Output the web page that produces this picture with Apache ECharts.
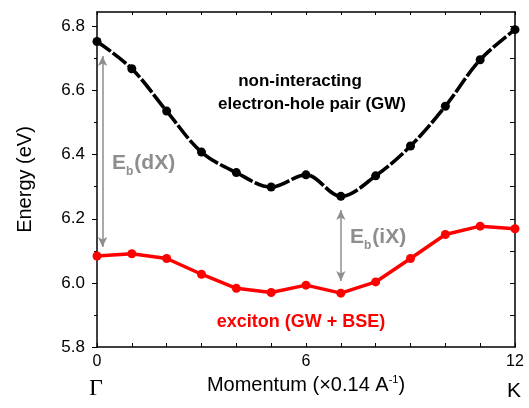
<!DOCTYPE html>
<html>
<head>
<meta charset="utf-8">
<script src="https://cdn.jsdelivr.net/npm/echarts@6/dist/echarts.min.js"></script>
<style>
  html, body { margin: 0; padding: 0; background: #fff; }
  #main { width: 529px; height: 408px; }
</style>
</head>
<body>
<div id="main"></div>
<script>
// data
const momentum = [0, 1, 2, 3, 4, 5, 6, 7, 8, 9, 10, 11, 12];
const gwEnergy = [6.753, 6.668, 6.536, 6.408, 6.344, 6.299, 6.337, 6.270, 6.334, 6.427, 6.551, 6.696, 6.790];
const bseEnergy = [6.084, 6.091, 6.076, 6.027, 5.983, 5.970, 5.993, 5.968, 6.003, 6.076, 6.151, 6.177, 6.169];
const xLabelValues = [0, 6, 12];
const yMajor = [5.8, 6.0, 6.2, 6.4, 6.6, 6.8];
const yMinor = [5.9, 6.1, 6.3, 6.5, 6.7];
const yAll = [5.9, 6.0, 6.1, 6.2, 6.3, 6.4, 6.5, 6.6, 6.7, 6.8];

const font = 'Liberation Sans, Arial, sans-serif';
const gray = '#8e8e8e';

let myChart = echarts.init(document.getElementById('main'));

const frameLine = { show: true, onZero: false, lineStyle: { color: '#000', width: 1.5 } };

// E_b(..) label with a lowered "b"
const ebRich = {
    n: { fontSize: 21, fontWeight: 'bold', fill: gray, fontFamily: font },
    s: { fontSize: 12, fontWeight: 'bold', fill: gray, fontFamily: font, padding: [16, 1, 0, 0] }
};

myChart.setOption({
    animation: false,
    textStyle: { fontFamily: font },
    grid: { left: 97, right: 14, top: 12, bottom: 61 },
    xAxis: [
        {
            type: 'value', min: 0, max: 12, interval: 1, position: 'bottom',
            axisLine: frameLine,
            axisTick: { inside: true, length: 4, lineStyle: { color: '#000', width: 1 } },
            axisLabel: { customValues: xLabelValues, fontSize: 16, color: '#000', margin: 7 },
            splitLine: { show: false },
            name: 'Momentum (\u00d70.14 A{sup|-1})',
            nameLocation: 'middle',
            nameGap: 24,
            nameTextStyle: {
                fontSize: 20, color: '#000',
                rich: { sup: { fontSize: 11, color: '#000', verticalAlign: 'top', padding: [0, 0, 10, 0] } }
            }
        },
        {
            type: 'value', min: 0, max: 12, interval: 1, position: 'top',
            axisLine: frameLine,
            axisTick: { inside: true, length: 3, lineStyle: { color: '#000', width: 1 } },
            axisLabel: { show: false },
            splitLine: { show: false }
        }
    ],
    yAxis: [
        {
            type: 'value', min: 5.8, max: 6.845, position: 'left',
            axisLine: frameLine,
            axisTick: { customValues: yMajor, length: 5, lineStyle: { color: '#000', width: 1 } },
            axisLabel: {
                customValues: yMajor, fontSize: 17, color: '#000', margin: 12,
                formatter: v => v.toFixed(1)
            },
            splitLine: { show: false },
            name: 'Energy (eV)',
            nameLocation: 'middle',
            nameGap: 62,
            nameTextStyle: { fontSize: 20, color: '#000' }
        },
        {
            type: 'value', min: 5.8, max: 6.845, position: 'left',
            axisLine: { show: false, onZero: false },
            axisTick: { customValues: yMinor, length: 3, lineStyle: { color: '#000', width: 1 } },
            axisLabel: { show: false },
            splitLine: { show: false }
        },
        {
            type: 'value', min: 5.8, max: 6.845, position: 'right',
            axisLine: frameLine,
            axisTick: { customValues: yAll, inside: true, length: 5, lineStyle: { color: '#000', width: 1 } },
            axisLabel: { show: false },
            splitLine: { show: false }
        }
    ],
    series: [
        {
            name: 'GW',
            type: 'line',
            data: momentum.map((m, i) => [m, gwEnergy[i]]),
            smooth: 0.35,
            symbol: 'circle',
            symbolSize: 9,
            itemStyle: { color: '#000' },
            lineStyle: { color: '#000', width: 3.6, type: [17, 2.5] },
            z: 3
        },
        {
            name: 'GW + BSE',
            type: 'line',
            data: momentum.map((m, i) => [m, bseEnergy[i]]),
            symbol: 'circle',
            symbolSize: 9,
            itemStyle: { color: '#ff0000' },
            lineStyle: { color: '#ff0000', width: 3.5 },
            z: 3,
            markLine: {
                silent: true,
                symbol: ['arrow', 'arrow'],
                symbolSize: [7, 10],
                label: { show: false },
                lineStyle: { color: gray, width: 1.5, type: 'solid' },
                data: [
                    [{ coord: [0.16, 6.708] }, { coord: [0.16, 6.112] }],
                    [{ coord: [7, 6.227] }, { coord: [7, 6.006] }]
                ]
            }
        }
    ],
    graphic: [
        {
            type: 'text', left: 112, top: 153,
            style: { text: '{n|E}{s|b}{n|(dX)}', rich: ebRich }
        },
        {
            type: 'text', left: 350, top: 227,
            style: { text: '{n|E}{s|b}{n|(iX)}', rich: ebRich }
        },
        {
            type: 'text', x: 300, y: 81,
            style: { text: 'non-interacting', fill: '#000', font: 'bold 17px ' + font, align: 'center', verticalAlign: 'middle' }
        },
        {
            type: 'text', x: 312, y: 104,
            style: { text: 'electron-hole pair (GW)', fill: '#000', font: 'bold 17px ' + font, align: 'center', verticalAlign: 'middle' }
        },
        {
            type: 'text', x: 301, y: 322,
            style: { text: 'exciton (GW + BSE)', fill: '#ff0000', font: 'bold 18px ' + font, align: 'center', verticalAlign: 'middle' }
        },
        {
            type: 'text', x: 96, y: 389,
            style: { text: '\u0393', fill: '#000', font: '24px Liberation Serif, Times New Roman, serif', align: 'center', verticalAlign: 'middle' }
        },
        {
            type: 'text', x: 514, y: 391,
            style: { text: 'K', fill: '#000', font: '21px ' + font, align: 'center', verticalAlign: 'middle' }
        }
    ]
});
</script>
</body>
</html>
